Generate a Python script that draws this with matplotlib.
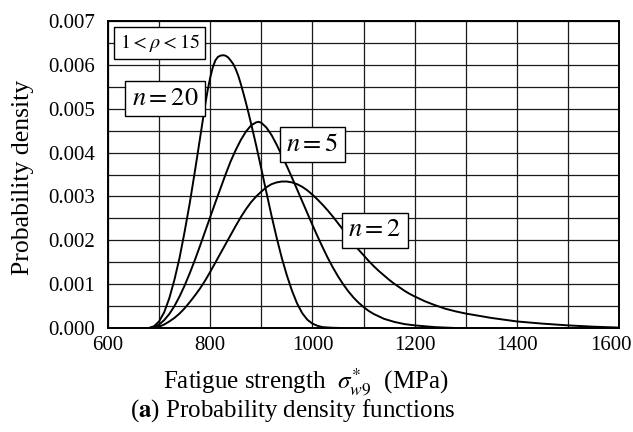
import matplotlib
matplotlib.use('Agg')
import matplotlib.pyplot as plt
import matplotlib.transforms as mtransforms
from matplotlib.ticker import MultipleLocator, FormatStrFormatter

plt.rcParams['font.family'] = ['Liberation Serif', 'DejaVu Serif']
plt.rcParams['mathtext.fontset'] = 'stix'

# values
x_n20 = [680, 690, 700, 710, 720, 730, 740, 750, 760, 770, 780, 790, 795, 800, 805, 810,
         815, 820, 825, 830, 835, 840, 845, 850, 855, 860, 865, 870, 875, 880, 890, 900,
         910, 920, 930, 940, 950, 960, 970, 980, 990, 1000, 1010, 1020, 1040, 1060]
y_n20 = [0.0, 0.00004, 0.00015, 0.00036, 0.00068, 0.0011, 0.0016, 0.0022, 0.00285,
         0.00357, 0.00432, 0.00508, 0.00542, 0.00571, 0.00594, 0.0061, 0.00618, 0.00621,
         0.00622, 0.00621, 0.00617, 0.0061, 0.00602, 0.0059, 0.00575, 0.00556, 0.00535,
         0.00513, 0.0049, 0.00466, 0.00416, 0.00363, 0.00309, 0.00256, 0.00206, 0.0016,
         0.0012, 0.00085, 0.00056, 0.00034, 0.00019, 0.0001, 0.00005, 0.00002, 0.000005, 0.0]

x_n5 = [680, 690, 700, 710, 720, 730, 740, 750, 760, 770, 780, 790, 800, 810, 820, 830,
        840, 850, 860, 870, 880, 890, 895, 900, 910, 920, 930, 940, 950, 960, 970, 980,
        990, 1000, 1010, 1020, 1030, 1040, 1050, 1060, 1070, 1080, 1090, 1100, 1110, 1120,
        1140, 1160, 1180, 1200, 1240, 1280]
y_n5 = [0.0, 0.00002, 0.00008, 0.00018, 0.00032, 0.0005, 0.00072, 0.00097, 0.00125,
        0.00155, 0.00187, 0.0022, 0.00253, 0.00286, 0.00318, 0.0035, 0.0038, 0.00406,
        0.00429, 0.00448, 0.00462, 0.00469, 0.0047, 0.00468, 0.00457, 0.0044, 0.00418,
        0.00394, 0.00369, 0.00343, 0.00316, 0.00289, 0.00262, 0.00235, 0.00209, 0.00184,
        0.0016, 0.00138, 0.00118, 0.001, 0.00084, 0.0007, 0.00058, 0.00048, 0.00039,
        0.00032, 0.00021, 0.00014, 0.00009, 0.00006, 0.00002, 0.0]

x_n2 = [680, 690, 700, 710, 720, 730, 740, 750, 760, 770, 780, 790, 800, 810, 820, 830,
        840, 850, 860, 870, 880, 890, 900, 910, 920, 930, 940, 950, 960, 970, 980, 990,
        1000, 1010, 1020, 1030, 1040, 1050, 1060, 1070, 1080, 1090, 1100, 1110, 1120, 1130,
        1140, 1150, 1160, 1170, 1180, 1190, 1200, 1220, 1240, 1260, 1280, 1300, 1350, 1400,
        1450, 1500, 1550, 1600]
y_n2 = [0.0, 0.00001, 0.00003, 0.00008, 0.00015, 0.00023, 0.00033, 0.00045, 0.00059,
        0.00074, 0.0009, 0.00108, 0.00128, 0.00149, 0.0017, 0.00191, 0.00212, 0.00233,
        0.00253, 0.00271, 0.00287, 0.003, 0.00311, 0.00321, 0.00328, 0.00332, 0.00334,
        0.00334, 0.00332, 0.00328, 0.00322, 0.00314, 0.00304, 0.00293, 0.00281, 0.00268,
        0.00254, 0.00239, 0.00224, 0.00209, 0.00194, 0.00179, 0.00166, 0.00153, 0.00141,
        0.0013, 0.0012, 0.0011, 0.00101, 0.00093, 0.00085, 0.00078, 0.00072, 0.00061,
        0.00052, 0.00044, 0.00038, 0.00033, 0.00023, 0.00015, 0.0001, 0.00006, 0.00003,
        0.00001]

x_ticks = [600, 800, 1000, 1200, 1400, 1600]

fig = plt.figure(figsize=(6.33, 4.32), dpi=100)
ax = fig.add_axes([0.1706, 0.2407, 0.8074, 0.7107])

for xs, ys in [(x_n20, y_n20), (x_n5, y_n5), (x_n2, y_n2)]:
    ax.plot(xs, ys, color='black', lw=1.4, zorder=3)

ax.set_xlim(600, 1600)
ax.set_ylim(0, 0.007)
ax.set_xticks(x_ticks)
ax.xaxis.set_minor_locator(MultipleLocator(100))
ax.yaxis.set_major_locator(MultipleLocator(0.001))
ax.yaxis.set_minor_locator(MultipleLocator(0.0005))
ax.yaxis.set_major_formatter(FormatStrFormatter('%.3f'))
ax.grid(which='both', color='#1a1a1a', lw=0.9)
ax.set_axisbelow(True)
ax.tick_params(which='both', length=0, labelsize=15)
ax.tick_params(axis='x', pad=6)
ax.tick_params(axis='y', pad=9)
for s in ax.spines.values():
    s.set_linewidth(1.4)

# keep the last x label inside the picture
fig.canvas.draw()
last = ax.get_xticklabels()[-1]
last.set_transform(last.get_transform() +
                   mtransforms.ScaledTranslation(-8 / 100, 0, fig.dpi_scale_trans))

box = dict(boxstyle='square,pad=0.25', fc='white', ec='black', lw=1.0)
ax.text(701, 0.0065, r'$1 < \rho < 15$', fontsize=14.5, ha='center', va='center', bbox=box, zorder=5)
ax.text(712, 0.00523, r'$n = 20$', fontsize=19, ha='center', va='center', bbox=box, zorder=5)
ax.text(1000, 0.00418, r'$n = 5$', fontsize=19, ha='center', va='center', bbox=box, zorder=5)
ax.text(1122, 0.00223, r'$n = 2$', fontsize=19, ha='center', va='center', bbox=box, zorder=5)

fig.text(23 / 633, 0.590, 'Probability density', rotation=90, fontsize=18.5,
         ha='center', va='center')
fig.text(306 / 633, 1 - 382 / 432, r'Fatigue strength  $\sigma^{*}_{w9}$  (MPa)',
         fontsize=18, ha='center', va='center')
fig.text(293 / 633, 1 - 411 / 432, r'($\mathbf{a}$) Probability density functions',
         fontsize=18, ha='center', va='center')

fig.savefig('out.png', dpi=100)
